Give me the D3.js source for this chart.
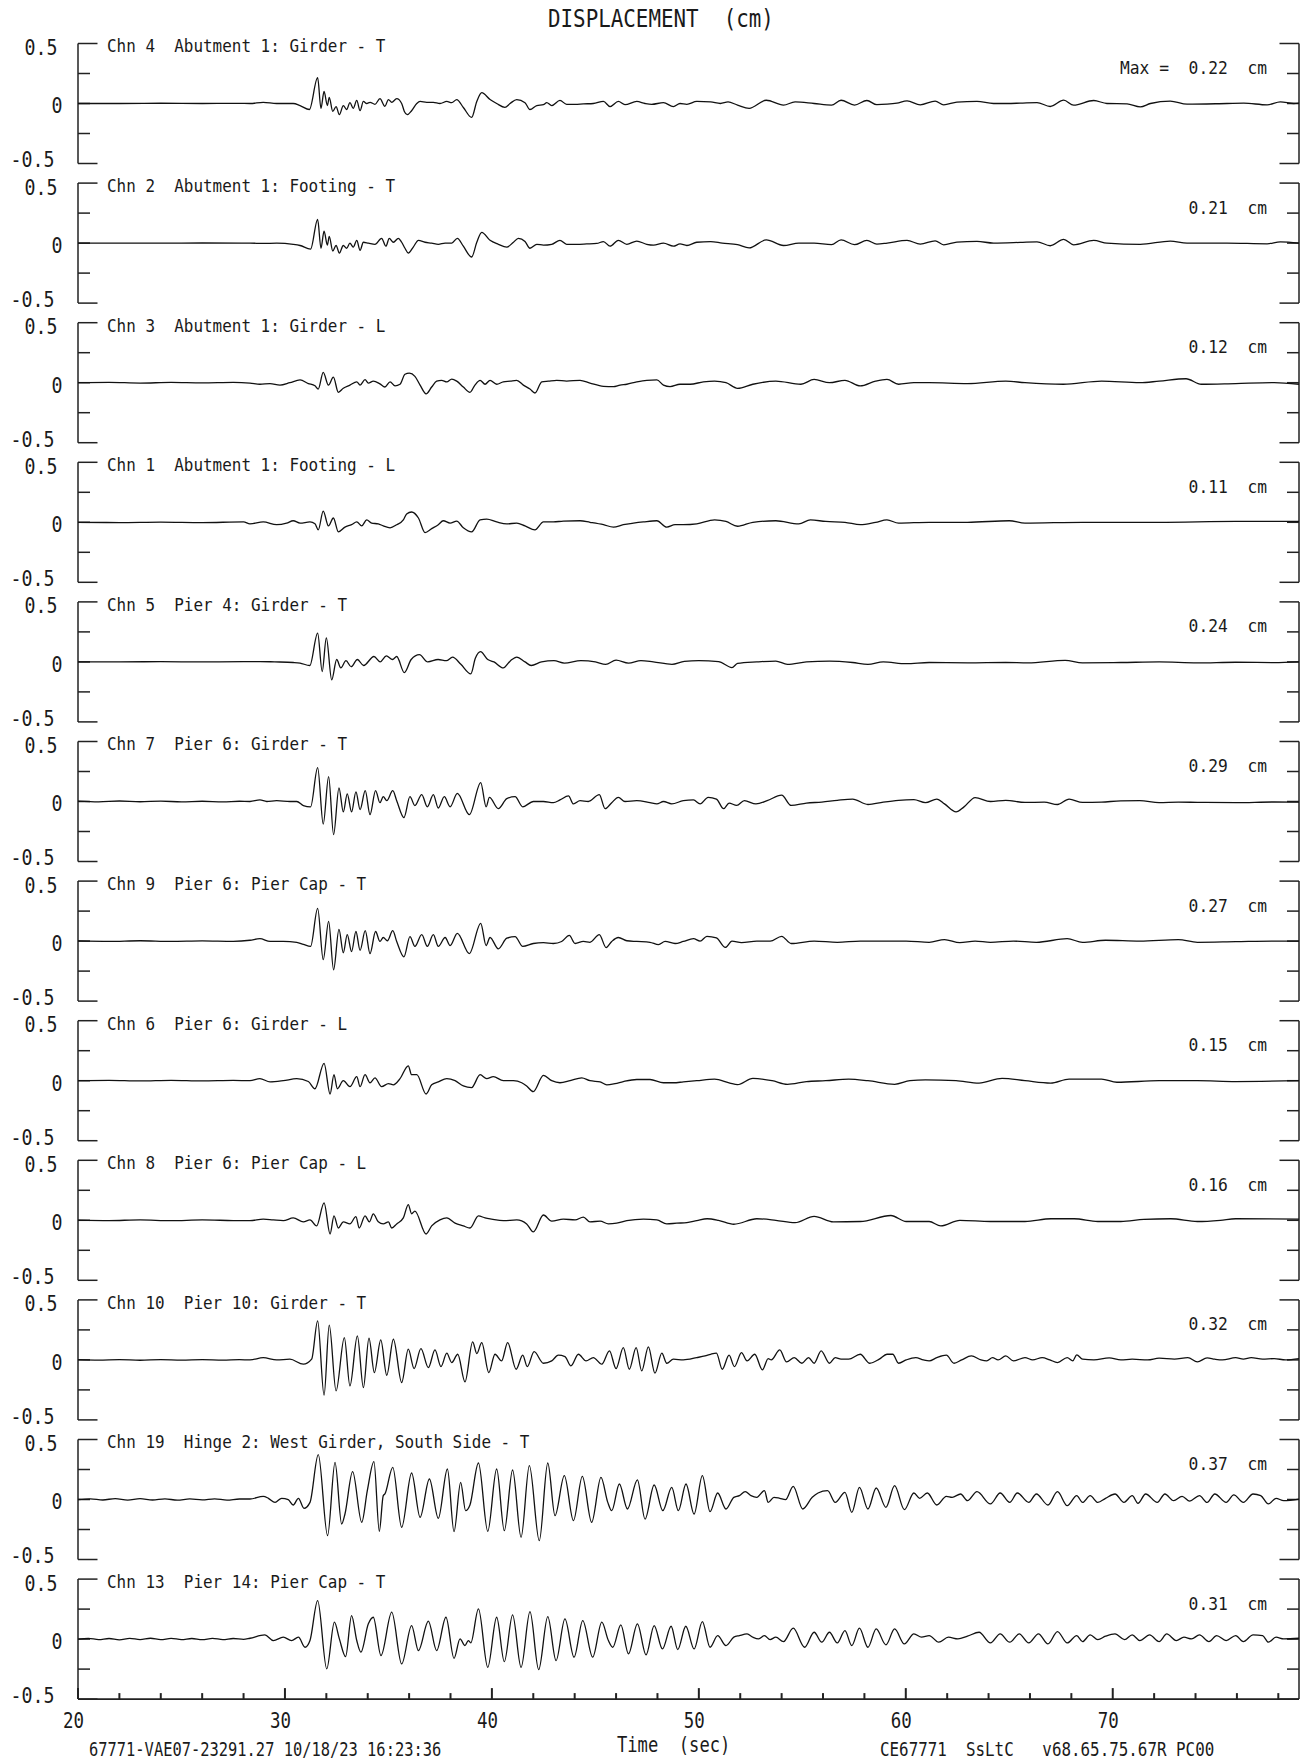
<!DOCTYPE html>
<html>
<head>
<meta charset="utf-8">
<script src="https://cdn.jsdelivr.net/npm/d3@7"></script>
<style>
  body { margin: 0; background: #fff; }
  svg text { font-family: "DejaVu Sans Mono", "Liberation Mono", monospace; fill: #1a1a1a; white-space: pre; }
</style>
</head>
<body>
<div id="chart"></div>
<script>
// channel titles, top to bottom
const chnLabels = [
  "Chn 4  Abutment 1: Girder - T",
  "Chn 2  Abutment 1: Footing - T",
  "Chn 3  Abutment 1: Girder - L",
  "Chn 1  Abutment 1: Footing - L",
  "Chn 5  Pier 4: Girder - T",
  "Chn 7  Pier 6: Girder - T",
  "Chn 9  Pier 6: Pier Cap - T",
  "Chn 6  Pier 6: Girder - L",
  "Chn 8  Pier 6: Pier Cap - L",
  "Chn 10  Pier 10: Girder - T",
  "Chn 19  Hinge 2: West Girder, South Side - T",
  "Chn 13  Pier 14: Pier Cap - T"
];
const maxLabels = ["Max =  0.22  cm", "0.21  cm", "0.12  cm", "0.11  cm", "0.24  cm", "0.29  cm",
  "0.27  cm", "0.15  cm", "0.16  cm", "0.32  cm", "0.37  cm", "0.31  cm"];
const yTicks = [0.5, 0.25, 0, -0.25, -0.5];
const yTickLabels = ["0.5", "0", "-0.5"];
const xMajor = [20, 30, 40, 50, 60, 70];
const xMinor = [22, 24, 26, 28, 32, 34, 36, 38, 42, 44, 46, 48, 52, 54, 56, 58, 62, 64, 66, 68, 72, 74, 76, 78];

// [time (sec), displacement (cm)]
const chn4 = [[20,0],[22,0],[24,0.002],[26,0],[27.5,0.001],
[28.31,0],[28.95,0.01],[29.6,0],[30.4,0],[30.73,-0.017],[31.18,-0.05],[31.58,0.215],[31.74,-0.04],[31.89,0.1],[32.05,-0.017],[32.14,0.05],[32.31,-0.066],[32.47,-0.026],[32.63,-0.093],[32.82,-0.017],[32.98,-0.05],[33.14,0.007],[33.3,-0.04],[33.47,0.026],[33.63,-0.06],[33.79,0.017],[33.95,0],[34.11,0.01],[34.35,-0.007],[34.59,0.04],[34.83,-0.023],[35.0,0.033],[35.16,0.01],[35.4,0.04],[35.64,0],[35.77,-0.066],[35.91,-0.093],[36.12,-0.06],[36.37,0],[36.53,0.017],[36.85,0.01],[37.17,0.01],[37.49,0],[37.82,0.017],[38.06,0.007],[38.3,0.033],[38.62,-0.033],[39.02,-0.116],[39.27,0.017],[39.51,0.09],[39.91,0.033],[40.23,0],[40.63,-0.033],[40.88,0],[41.2,0.033],[41.6,0.007],[41.84,-0.05],[42.17,-0.017],[42.49,-0.01],[42.65,0.007],[42.89,-0.017],[43.29,0.026],[43.61,-0.007],[44.02,-0.007],[44.42,-0.003],[44.9,0],[45.39,0.017],[45.71,-0.026],[46.11,0.017],[46.43,-0.01],[47.0,0.017],[47.4,0],[47.72,-0.007],[48.29,0.007],[48.77,-0.026],[49.09,0],[49.42,-0.007],[49.9,0.017],
[50.57,0.013],[51.04,0],[51.41,0.013],[51.87,-0.013],[52.43,-0.04],[53.26,0.027],[54.09,-0.013],[54.65,0.013],[55.57,0],[56.41,-0.013],[56.87,0.027],[57.52,-0.013],
[58.12,0.025],[58.6,-0.01],[59.1,-0.006],[59.57,0.003],[60.06,0.022],[60.7,-0.011],[61.42,0.02],[61.83,-0.011],[62.47,0.011],[63.44,0.017],[64.24,0],[64.89,0],[65.53,0.003],[66.34,0.008],[66.98,-0.025],[67.63,0.028],[68.11,-0.014],[69.08,0.025],[69.72,0],[70.69,-0.003],[71.33,-0.028],[71.82,0],[72.78,0.02],[73.59,-0.006],[75.52,0],[76.33,0.003],[77.46,-0.011],[78.1,0.014],[78.75,0],[79,0.003]];

const chn2 = [[20,0],[22,0],[24,0],[26,0.001],
[28.31,0],[28.95,-0.003],[29.6,0],[30.4,-0.01],[30.73,-0.02],[31.24,-0.05],[31.58,0.198],[31.74,-0.043],[31.89,0.1],[32.05,-0.017],[32.14,0.056],[32.31,-0.066],[32.47,-0.02],[32.63,-0.083],[32.82,-0.02],[32.98,-0.043],[33.14,0],[33.3,-0.033],[33.47,0.023],[33.63,-0.06],[33.79,0.007],[34.03,0],[34.35,-0.01],[34.67,0.04],[34.88,-0.026],[35.04,0.04],[35.24,0.007],[35.48,0.04],[35.64,0.007],[35.8,-0.043],[35.96,-0.083],[36.2,-0.033],[36.45,0.023],[36.77,0.007],[37.09,0],[37.41,-0.01],[37.74,0],[38.06,0],[38.33,0.04],[38.62,-0.026],[39.02,-0.116],[39.27,0.007],[39.51,0.09],[39.91,0.023],[40.31,-0.01],[40.72,-0.033],[41.04,0.007],[41.28,0.04],[41.6,0.013],[41.84,-0.043],[42.17,-0.01],[42.49,-0.017],[42.89,-0.01],[43.29,0.023],[43.61,-0.01],[44.1,-0.01],[44.58,-0.007],[45.07,-0.003],[45.39,0.013],[45.71,-0.026],[46.11,0.023],[46.52,-0.01],[47.0,0.017],[47.48,-0.01],[47.81,-0.017],[48.29,0],[48.77,-0.026],[49.09,-0.007],[49.42,-0.02],[49.9,0.007],
[50.57,0.013],[51.13,0],[51.87,-0.013],[52.43,-0.04],[53.26,0.027],[54.09,-0.02],[54.83,0],[55.57,0],[56.41,-0.013],[56.87,0.027],[57.52,-0.013],
[58.12,0.022],[58.6,-0.008],[59.1,0],[60.06,0.022],[60.7,-0.008],[61.42,0.019],[61.83,-0.014],[62.47,0.008],[63.44,0.014],[64.24,0],[65.53,0.006],[66.34,0.011],[66.98,-0.022],[67.63,0.031],[68.11,-0.014],[69.08,0.022],[69.72,0],[71.33,-0.01],[72.78,0.017],[73.59,0],[75.52,0],[77.46,-0.006],[78.1,0.011],[79,0]];

const chn3 = [[20,0],[21.5,0.003],[23,-0.003],[24.5,0.002],[26,-0.002],[27.5,0.002],
[28.31,-0.003],[28.79,-0.013],[29.28,-0.007],[29.76,-0.02],[30.24,0],[30.73,0.023],[31.13,-0.007],[31.45,-0.026],[31.61,-0.053],[31.85,0.086],[32.1,-0.02],[32.34,0.046],[32.58,-0.08],[32.82,-0.046],[33.14,-0.02],[33.47,0.007],[33.63,-0.02],[33.87,0.026],[34.03,-0.003],[34.27,0.013],[34.59,-0.01],[34.83,-0.036],[35.08,0.007],[35.32,-0.026],[35.56,-0.013],[35.8,0.07],[36.01,0.08],[36.28,0.053],[36.53,-0.02],[36.82,-0.093],[37.09,-0.036],[37.33,0.013],[37.57,0.02],[37.82,0.007],[38.06,0.03],[38.3,0.013],[38.62,-0.036],[38.94,-0.08],[39.18,-0.02],[39.43,0.02],[39.67,-0.013],[39.91,0.02],[40.23,-0.013],[40.55,0.007],[40.88,0.013],[41.2,0.02],[41.52,-0.02],[41.84,-0.053],[42.08,-0.086],[42.41,0.007],[42.73,0.013],[43.13,0.02],[43.61,0.013],[44.26,0.02],[44.74,-0.003],[45.39,-0.03],[45.87,-0.033],[46.19,-0.02],[46.52,-0.013],[47.0,0.007],[47.48,0.02],[47.97,0.023],[48.29,-0.02],[48.61,-0.033],[49.09,-0.013],[49.58,-0.013],[50.22,0.007],
[50.76,0.013],[51.31,0],[51.87,-0.047],[52.61,-0.013],[53.72,0.013],[54.93,-0.013],[55.57,0.027],[56.31,0],[57.06,0.02],[57.8,-0.027],[58.54,0.013],[59.09,0.027],[59.65,-0.013],[60.39,0],[61.13,0],[62.98,-0.007],[64.83,0.013],[65.76,0],[67.61,-0.013],[69.46,0.013],[71.31,0],[72.24,0.013],[73.54,0.033],[74.28,-0.013],[75.94,-0.007],[77.8,0],[79,-0.013]];

const chn1 = [[20,0],[22,-0.002],[24,0.002],[26,-0.002],[28,0.003],
[28.31,-0.013],[28.95,0.003],[29.6,-0.02],[30.08,-0.007],[30.4,0.013],[30.73,-0.007],[31.21,0.003],[31.45,-0.013],[31.61,-0.063],[31.85,0.093],[32.1,-0.03],[32.34,0.036],[32.58,-0.08],[32.9,-0.04],[33.22,-0.02],[33.47,0.003],[33.71,-0.03],[33.95,0.02],[34.19,-0.007],[34.51,-0.013],[34.75,-0.03],[35.08,-0.046],[35.4,-0.02],[35.72,0.02],[35.88,0.07],[36.12,0.086],[36.45,0.036],[36.77,-0.086],[37.09,-0.053],[37.41,-0.02],[37.65,0.013],[37.98,-0.007],[38.3,0.01],[38.62,-0.046],[39.02,-0.08],[39.43,0.02],[39.75,0.026],[40.23,0.003],[40.72,-0.013],[41.2,-0.007],[41.6,-0.03],[42.08,-0.063],[42.49,0.003],[42.97,0.003],[43.45,0.01],[44.26,0.013],[44.74,0],[45.39,-0.02],[45.87,-0.04],[46.35,-0.02],[46.84,-0.007],[47.32,0.003],[47.97,0.013],[48.45,-0.04],[48.85,-0.02],[49.25,-0.02],[49.9,-0.013],
[50.76,0.02],[51.31,0.007],[51.87,-0.033],[52.61,0],[53.72,0.013],[54.83,-0.013],[55.39,0.02],[56.13,0.007],[57.06,0],[57.8,-0.02],[58.54,0],[59.09,0.02],[59.65,-0.007],[61.13,0],[62.98,0],[65.0,0.013],[65.76,-0.007],[68.54,0],[72.24,0],[75.94,0.007],[79,0.007]];

const chn5 = [[20,0],[22,0],[24,0.002],[26,0],[28,0.002],
[28.8,0.003],[29.5,0],[30.4,-0.005],[30.73,-0.01],[31.2,-0.03],[31.58,0.24],[31.8,-0.08],[32.0,0.2],[32.26,-0.15],[32.5,0.02],[32.7,-0.05],[32.95,0.01],[33.2,-0.04],[33.5,0.02],[33.8,-0.03],[34.3,0.045],[34.6,0],[34.9,0.05],[35.2,0.02],[35.4,0.045],[35.77,-0.09],[36.1,0.02],[36.5,0.06],[36.9,0],[37.4,0.02],[37.8,0.01],[38.1,0.04],[38.5,-0.02],[38.98,-0.1],[39.2,0.03],[39.45,0.085],[39.8,0.02],[40.1,0],[40.55,-0.05],[40.9,0.01],[41.2,0.04],[41.6,0],[41.9,-0.03],[42.4,0],[43.0,0.01],[43.5,-0.01],[44.3,0.01],[45.0,0],[45.5,-0.02],[46.0,0.015],[46.6,-0.01],[47.2,0.01],[47.8,0],[48.7,-0.02],[49.3,0.005],[50.0,0.01],
[50.95,0.003],[51.6,-0.047],[51.87,-0.013],[52.8,0],[53.72,0.007],[54.28,-0.02],[55.2,0],[56.31,0.007],[57.43,-0.005],[58.17,-0.02],[58.91,0],[60.02,-0.015],[61.13,-0.005],[63.0,-0.008],[64.83,-0.005],[65.9,-0.008],[67.7,0.013],[68.54,-0.008],[70.39,-0.005],[72.24,0],[74.09,-0.008],[75.94,-0.003],[77.8,-0.006],[79,0]];

const chn7 = [[20,0.003],[21,-0.003],[22,0.004],[23,-0.002],[24,0.003],[25,-0.003],[26,0.002],[27,-0.003],[27.8,0.002],
[28.31,0],[28.79,0.013],[29.12,0],[29.6,0.007],[30.24,0],[30.57,0],[30.89,-0.034],[31.24,-0.044],[31.58,0.282],[31.85,-0.188],[32.11,0.208],[32.35,-0.276],[32.61,0.114],[32.82,-0.087],[33.01,0.064],[33.22,-0.087],[33.43,0.08],[33.63,-0.067],[33.88,0.09],[34.11,-0.11],[34.38,0.09],[34.59,-0.01],[34.75,0.04],[34.92,0.007],[35.21,0.09],[35.4,0.007],[35.75,-0.134],[36.04,0.04],[36.28,-0.034],[36.61,0.057],[36.88,-0.044],[37.17,0.057],[37.41,-0.054],[37.7,0.04],[37.98,-0.044],[38.33,0.067],[38.91,-0.11],[39.46,0.158],[39.72,-0.044],[39.88,0.034],[40.31,-0.06],[40.72,0.024],[41.12,0.04],[41.49,-0.044],[42.0,0],[42.49,0],[42.97,-0.01],[43.29,0.013],[43.7,0.047],[43.94,-0.02],[44.26,0.007],[44.66,0],[45.19,0.057],[45.47,-0.06],[45.79,-0.01],[46.11,0.034],[46.43,0],[47.0,0.007],[47.64,-0.01],[47.97,-0.02],[48.29,0],[48.69,-0.02],[49.25,0.007],[49.74,0.013],
[50.06,-0.02],[50.45,0.035],[50.85,0.02],[51.2,-0.06],[51.46,-0.013],[51.83,-0.033],[52.2,0.007],[52.76,-0.02],[53.3,0.007],[54.0,0.053],[54.46,-0.033],[55.2,-0.013],[55.94,-0.005],[56.69,0.01],[57.43,0.02],[58.17,-0.025],[58.91,-0.005],[59.65,0.01],[60.39,0.015],[60.95,-0.01],[61.5,0.02],[61.87,-0.02],[62.43,-0.087],[62.8,-0.047],[63.35,0.033],[64.09,0],[64.83,0.01],[65.76,-0.008],[66.69,-0.005],[67.33,-0.025],[67.89,0.02],[68.54,-0.008],[69.46,-0.005],[70.39,0.005],[71.31,0.007],[72.24,-0.01],[73.17,-0.005],[74.09,-0.007],[75.94,-0.01],[77.8,-0.004],[79,-0.005]];

const chn9 = [[20,0.002],[21.5,-0.002],[23,0.003],[24.5,-0.002],[26,0.002],[27.5,-0.002],
[28.31,0.007],[28.79,0.02],[29.28,-0.003],[29.92,-0.003],[30.57,-0.01],[30.89,-0.027],[31.24,-0.044],[31.58,0.272],[31.85,-0.155],[32.11,0.165],[32.35,-0.239],[32.61,0.097],[32.82,-0.097],[33.01,0.054],[33.22,-0.087],[33.43,0.08],[33.63,-0.077],[33.88,0.087],[34.11,-0.104],[34.38,0.08],[34.59,-0.003],[34.75,0.03],[34.95,0.003],[35.21,0.087],[35.4,-0.003],[35.75,-0.131],[36.04,0.037],[36.28,-0.044],[36.61,0.054],[36.88,-0.044],[37.17,0.054],[37.41,-0.044],[37.74,0.03],[37.98,-0.037],[38.33,0.064],[38.91,-0.104],[39.46,0.148],[39.72,-0.037],[39.91,0.03],[40.31,-0.064],[40.72,0.024],[41.12,0.037],[41.49,-0.044],[42.0,-0.02],[42.49,-0.013],[42.97,-0.02],[43.37,-0.003],[43.74,0.047],[44.02,-0.02],[44.42,-0.003],[44.74,-0.01],[45.19,0.054],[45.52,-0.054],[45.79,-0.003],[46.11,0.03],[46.52,0.003],[47.0,-0.003],[47.64,-0.01],[48.05,-0.03],[48.37,-0.003],[48.85,-0.02],[49.25,-0.003],[49.74,0.02],
[50.06,0],[50.39,0.04],[50.85,0.027],[51.28,-0.053],[51.6,0],[52.06,-0.013],[52.8,0],[53.45,0],[54.0,0.04],[54.46,-0.02],[55.57,0],[56.69,-0.01],[57.8,0],[58.91,0],[60.02,0],[61.13,-0.01],[61.87,0.013],[62.61,-0.013],[63.35,0],[64.09,-0.01],[65.2,0],[66.31,-0.01],[67.8,0.02],[68.54,-0.01],[69.65,0.007],[71.31,0],[73.17,0.013],[74.09,-0.01],[75.94,-0.005],[77.8,0],[79,0]];

const chn6 = [[20,0],[21.5,0.003],[23,-0.002],[24.5,0.003],[26,-0.002],[27.5,0.002],
[28.31,0],[28.79,0.017],[29.28,-0.01],[29.92,0],[30.57,0.017],[31.13,-0.007],[31.45,-0.067],[31.89,0.145],[32.18,-0.111],[32.37,0.05],[32.53,-0.067],[32.82,0],[33.14,-0.05],[33.47,0.034],[33.63,-0.05],[33.87,0.05],[34.11,-0.017],[34.35,0.024],[34.67,-0.05],[35.0,-0.024],[35.24,-0.034],[35.56,0.017],[35.96,0.124],[36.12,0.05],[36.37,0.05],[36.82,-0.111],[37.09,-0.034],[37.41,-0.01],[37.82,0.017],[38.22,0],[38.62,-0.044],[39.02,-0.057],[39.43,0.05],[39.75,0.017],[40.07,0.034],[40.55,0],[41.04,0],[41.44,-0.017],[41.68,-0.044],[42.0,-0.091],[42.49,0.044],[42.89,0],[43.29,-0.017],[43.78,0],[44.34,0.024],[44.74,0],[45.23,-0.01],[45.55,-0.034],[45.95,-0.024],[46.35,-0.007],[47.0,0.01],[47.64,0.01],[48.29,-0.017],[48.77,-0.017],[49.25,-0.01],[49.9,0],
[50.76,0.013],[51.5,-0.02],[51.87,-0.033],[52.61,0.02],[53.54,0],[54.28,-0.03],[55.2,-0.007],[56.13,0],[57.24,0.013],[58.17,0],[59.46,-0.03],[60.2,0],[60.95,0.007],[62.43,0],[63.54,-0.02],[64.65,0.02],[65.76,0],[67.0,-0.02],[67.89,0.013],[69.46,0.013],[70.2,-0.013],[72.24,0],[74.09,0],[75.94,-0.007],[79,0]];

const chn8 = [[20,0.002],[21.5,-0.002],[23,0.003],[24.5,-0.003],[26,0.003],[27.5,-0.002],
[28.31,-0.003],[28.95,0.01],[29.44,0.003],[29.92,-0.003],[30.4,0.02],[30.89,-0.013],[31.21,0.003],[31.53,-0.047],[31.89,0.145],[32.18,-0.114],[32.37,0.037],[32.58,-0.064],[32.82,-0.013],[33.14,-0.03],[33.43,0.03],[33.59,-0.064],[33.87,0.037],[34.08,-0.013],[34.27,0.054],[34.51,-0.013],[34.75,-0.03],[35.0,-0.013],[35.16,-0.064],[35.4,-0.03],[35.72,0.02],[35.96,0.131],[36.12,0.054],[36.28,0.077],[36.82,-0.114],[37.09,-0.047],[37.49,0.003],[37.82,0.02],[38.22,-0.024],[38.62,-0.047],[38.94,-0.064],[39.35,0.037],[39.67,0.02],[39.99,0.01],[40.55,-0.003],[41.2,0.003],[41.68,-0.03],[42.0,-0.097],[42.49,0.044],[42.89,-0.007],[43.45,0.01],[44.02,0.003],[44.42,0.027],[44.74,-0.013],[45.23,-0.007],[45.63,-0.03],[46.03,-0.024],[46.52,-0.003],[47.32,0.01],[47.97,0.003],[48.45,-0.03],[48.93,-0.024],[49.42,-0.02],[49.9,-0.003],
[50.4,0.013],[50.95,0],[51.69,-0.033],[52.8,0.013],[53.72,0],[54.65,-0.02],[55.57,0.033],[56.5,-0.013],[57.8,-0.01],[59.28,0.04],[60.02,-0.01],[61.13,-0.01],[61.69,-0.047],[62.61,0],[64.09,-0.01],[65.76,-0.01],[67.02,0.013],[68.13,0.013],[69.28,-0.01],[70.39,-0.01],[71.5,0.007],[72.8,0.013],[74.09,-0.01],[75.2,0],[75.94,0.013],[79,0.01]];

const chn10 = [[20,0.002],[21,-0.002],[22,0.003],[23,-0.003],[24,0.002],[25,-0.002],[26,0.003],[27,-0.002],[27.8,0.002],
[28.31,0],[28.95,0.019],[29.6,0],[30.24,0.006],[30.89,-0.036],[31.29,0.006],[31.58,0.325],[31.89,-0.294],[32.14,0.289],[32.47,-0.258],[32.87,0.186],[33.14,-0.217],[33.5,0.2],[33.79,-0.231],[34.06,0.181],[34.32,-0.106],[34.63,0.167],[34.92,-0.128],[35.24,0.172],[35.64,-0.189],[35.96,0.089],[36.24,-0.072],[36.57,0.094],[36.93,-0.064],[37.25,0.083],[37.54,-0.056],[37.82,0.056],[38.06,-0.022],[38.35,0.047],[38.7,-0.183],[39.07,0.15],[39.27,0.053],[39.51,0.144],[39.85,-0.106],[40.15,0.047],[40.47,-0.008],[40.76,0.144],[41.17,-0.078],[41.49,0.039],[41.71,-0.056],[42.04,0.069],[42.49,-0.028],[42.89,-0.008],[43.21,0.039],[43.53,0.028],[43.82,-0.05],[44.18,0.047],[44.55,-0.008],[44.9,0.019],[45.31,-0.036],[45.68,0.075],[46.0,-0.072],[46.35,0.103],[46.64,-0.078],[46.97,0.103],[47.24,-0.092],[47.56,0.108],[47.88,-0.111],[48.21,0.056],[48.45,-0.028],[48.77,0.006],[49.25,0],[49.9,0.019],
[50.3,0.033],[50.57,0.047],[50.85,0.056],[51.13,-0.078],[51.46,0.039],[51.72,-0.056],[52.06,0.061],[52.33,-0.008],[52.7,0.047],[53.07,-0.083],[53.35,0.011],[53.5,0],[53.91,0.083],[54.24,-0.017],[54.61,0.019],[54.98,-0.028],[55.3,0.019],[55.57,-0.028],[55.91,0.075],[56.31,-0.028],[56.59,0.019],[56.87,0.006],[57.24,0.006],[57.8,0.047],[58.26,-0.028],[58.72,0.006],[59.09,0.047],[59.37,0.047],[59.65,-0.028],[60.02,0],[60.48,0.019],[60.85,0],[61.13,-0.008],[61.5,0.019],[61.96,0.039],[62.33,-0.028],[62.7,0],[63.17,0.033],[63.63,0],[63.91,-0.008],[64.19,0.019],[64.46,0],[64.83,0.033],[65.2,-0.008],[65.76,0.019],[66.13,0],[66.59,0.019],[66.96,0],[67.33,-0.022],[67.8,0.019],[68.07,-0.008],[68.26,0.042],[68.54,0.006],[69.09,0],[69.83,0.017],[70.39,0],[70.94,0.006],[71.69,0],[72.24,0.014],[72.98,0.006],[73.63,0.019],[74.09,-0.017],[74.56,0.017],[74.93,0.006],[75.3,0],[75.94,0.019],[76.31,0.006],[76.69,0.019],[77.24,0.006],[77.8,0.011],[78.35,0],[79,0.011]];

const chn19 = [[20,0],[20.6,0.006],[21.2,-0.004],[21.8,0.008],[22.4,-0.005],[23,0.007],[23.6,-0.004],[24.2,0.006],[24.8,-0.006],[25.4,0.005],[26,-0.003],[26.6,0.006],[27.2,-0.005],[27.8,0.004],
[28.31,0.004],[28.95,0.026],[29.2,0.01],[29.52,-0.024],[29.84,0.01],[30.16,-0.001],[30.4,-0.046],[30.65,0.01],[30.92,-0.074],[31.21,-0.024],[31.61,0.374],[32.06,-0.301],[32.42,0.31],[32.74,-0.204],[32.9,-0.121],[33.27,0.232],[33.71,-0.19],[33.98,0.074],[34.3,0.315],[34.56,-0.265],[34.75,0.032],[34.83,0.046],[35.21,0.268],[35.64,-0.232],[36.12,0.221],[36.53,-0.149],[36.98,0.171],[37.41,-0.157],[37.85,0.254],[38.17,-0.268],[38.49,0.143],[38.73,-0.093],[38.94,-0.046],[39.35,0.304],[39.8,-0.265],[40.23,0.254],[40.6,-0.26],[41.0,0.246],[41.41,-0.315],[41.81,0.282],[42.29,-0.343],[42.7,0.304],[43.05,-0.135],[43.5,0.199],[43.94,-0.176],[44.37,0.193],[44.82,-0.19],[45.27,0.185],[45.6,-0.024],[45.79,-0.093],[46.16,0.129],[46.55,-0.079],[47.03,0.163],[47.4,-0.163],[47.84,0.121],[48.26,-0.093],[48.69,0.101],[49.01,-0.093],[49.38,0.129],[49.77,-0.121],[50.17,0.199],
[50.54,-0.101],[50.91,0.054],[51.31,-0.079],[51.69,0.018],[51.96,0.032],[52.24,0.065],[52.52,0.032],[52.8,0.018],[53.17,0.074],[53.35,-0.024],[53.63,0.018],[53.91,0.01],[54.19,-0.001],[54.56,0.11],[55.02,-0.079],[55.48,0.018],[55.76,0.054],[56.22,0.074],[56.59,-0.024],[57.06,0.06],[57.39,-0.107],[57.76,0.101],[58.17,-0.079],[58.57,0.096],[59.04,-0.065],[59.46,0.115],[59.93,-0.085],[60.39,0.054],[60.67,0.01],[61.04,0.054],[61.5,-0.046],[61.96,0.026],[62.24,0.018],[62.65,0.046],[62.98,-0.01],[63.44,0.065],[64.09,-0.037],[64.56,0.054],[65.02,-0.024],[65.39,0.054],[65.94,-0.024],[66.31,0.046],[66.87,-0.046],[67.33,0.065],[67.8,-0.051],[68.26,0.032],[68.54,-0.024],[68.91,0.032],[69.28,-0.024],[69.65,0.01],[70.11,0.046],[70.54,-0.024],[70.94,0.032],[71.22,-0.032],[71.59,0.046],[72.15,-0.024],[72.52,0.046],[72.94,-0.01],[73.35,0.026],[73.72,-0.013],[74.19,0.032],[74.56,-0.024],[74.93,0.046],[75.48,-0.024],[75.85,0.038],[76.31,-0.024],[76.78,0.046],[77.15,0.032],[77.52,-0.037],[77.89,0.01],[78.26,-0.01],[79,0.004]];

const chn13 = [[20,0],[20.5,0.006],[21,-0.004],[21.5,0.005],[22,-0.006],[22.5,0.006],[23,-0.004],[23.5,0.007],[24,-0.005],[24.5,0.006],[25,-0.004],[25.5,0.005],[26,-0.005],[26.5,0.006],[27,-0.004],[27.5,0.005],[28,-0.003],
[28.31,0.007],[29.03,0.035],[29.44,-0.012],[29.92,0.016],[30.32,-0.012],[30.65,0.016],[30.97,-0.068],[31.21,-0.012],[31.58,0.321],[32.02,-0.248],[32.39,0.141],[32.63,0.002],[32.93,-0.146],[33.22,0.196],[33.47,-0.012],[33.67,-0.109],[34.03,0.127],[34.27,0.182],[34.64,-0.138],[35.16,0.224],[35.64,-0.207],[36.12,0.113],[36.45,-0.096],[36.93,0.149],[37.33,-0.096],[37.78,0.182],[38.17,-0.16],[38.46,0.002],[38.7,-0.054],[38.86,-0.012],[38.98,-0.032],[39.35,0.252],[39.8,-0.235],[40.23,0.182],[40.6,-0.188],[41.0,0.202],[41.41,-0.235],[41.84,0.229],[42.26,-0.254],[42.7,0.188],[43.1,-0.179],[43.53,0.168],[43.97,-0.151],[44.39,0.154],[44.87,-0.151],[45.31,0.141],[45.63,-0.012],[45.84,-0.068],[46.23,0.118],[46.6,-0.123],[47.03,0.127],[47.45,-0.132],[47.84,0.113],[48.24,-0.082],[48.66,0.107],[48.98,-0.088],[49.37,0.107],[49.77,-0.082],[50.17,0.146],
[50.54,-0.068],[50.91,0.029],[51.31,-0.054],[51.69,0.016],[51.96,0.029],[52.33,0.043],[52.61,0.016],[52.89,0.002],[53.17,0.029],[53.44,-0.004],[53.72,0.016],[54.09,-0.021],[54.56,0.091],[55.11,-0.068],[55.57,0.057],[55.94,-0.026],[56.31,0.057],[56.69,-0.032],[57.06,0.071],[57.39,-0.054],[57.76,0.091],[58.17,-0.068],[58.57,0.085],[59.04,-0.048],[59.46,0.085],[59.93,-0.04],[60.39,0.043],[60.76,0.016],[61.13,0.029],[61.59,-0.026],[62.06,0.016],[62.52,0.002],[62.98,0.024],[63.54,0.057],[64.09,-0.032],[64.56,0.043],[65.02,-0.026],[65.48,0.043],[65.94,-0.032],[66.41,0.043],[66.87,-0.04],[67.33,0.063],[67.8,-0.032],[68.26,0.029],[68.54,-0.021],[68.91,0.035],[69.28,-0.004],[69.65,0.024],[70.11,0.043],[70.57,-0.004],[70.94,0.035],[71.31,-0.012],[71.78,0.035],[72.24,-0.021],[72.61,0.043],[73.07,-0.012],[73.44,0.016],[73.81,0.002],[74.19,0.035],[74.65,-0.021],[75.02,0.029],[75.48,-0.012],[75.94,0.029],[76.31,-0.021],[76.78,0.035],[77.24,0.029],[77.52,-0.026],[77.89,0.016],[78.26,0.002],[79,0.007]];

const series = [chn4, chn2, chn3, chn1, chn5, chn7, chn9, chn6, chn8, chn10, chn19, chn13];

const width = 1309, height = 1763;
const panelTop = 43.5, panelStep = 139.6, panelH = 120;

const svg = d3.select("#chart").append("svg")
  .attr("width", width).attr("height", height);

const x = d3.scaleLinear().domain([20, 79]).range([78, 1299]);

// condensed monospace text, like the plotter lettering
function label(g, str, px, py, size, adv, anchor) {
  return g.append("text")
    .attr("x", px).attr("y", py)
    .attr("font-size", size)
    .attr("text-anchor", anchor || "start")
    .attr("textLength", str.length * adv)
    .attr("lengthAdjust", "spacingAndGlyphs")
    .attr("xml:space", "preserve")
    .text(str);
}

label(svg, "DISPLACEMENT  (cm)", 548, 27, 24.5, 12.55);

const line = d3.line().curve(d3.curveMonotoneX);

series.forEach((data, i) => {
  const top = panelTop + i * panelStep;
  const y = d3.scaleLinear().domain([-0.5, 0.5]).range([top + panelH, top]);
  const g = svg.append("g");

  // left and right brackets
  const axisColor = "#222";
  g.append("line").attr("x1", x(20)).attr("x2", x(20)).attr("y1", y(0.5)).attr("y2", y(-0.5))
    .attr("stroke", axisColor).attr("stroke-width", 1.5);
  g.append("line").attr("x1", x(79)).attr("x2", x(79)).attr("y1", y(0.5)).attr("y2", y(-0.5))
    .attr("stroke", axisColor).attr("stroke-width", 1.5);
  yTicks.forEach(v => {
    const len = Math.abs(v) === 0.5 ? 19.5 : 12;
    g.append("line").attr("x1", x(20)).attr("x2", x(20) + len).attr("y1", y(v)).attr("y2", y(v))
      .attr("stroke", axisColor).attr("stroke-width", 1.5);
    g.append("line").attr("x1", x(79) - len).attr("x2", x(79)).attr("y1", y(v)).attr("y2", y(v))
      .attr("stroke", axisColor).attr("stroke-width", 1.5);
  });

  // y tick labels
  label(g, yTickLabels[0], 57.5, y(0.5) + 11.5, 21.5, 11, "end");
  label(g, yTickLabels[1], 62.5, y(0) + 9.8, 21.5, 11, "end");
  label(g, yTickLabels[2], 54.5, y(-0.5) + 3.8, 21.5, 11, "end");

  label(g, chnLabels[i], 107, top + 8.8, 17.8, 9.6);
  label(g, maxLabels[i], 1267, top + 30.5, 18, 9.8, "end");

  g.append("path")
    .attr("d", line(data.map(d => [x(d[0]), y(d[1])])))
    .attr("fill", "none")
    .attr("stroke", "#111")
    .attr("stroke-width", 1.3)
    .attr("stroke-linejoin", "round");
});

// time axis under the last panel
const yBase = panelTop + 11 * panelStep + panelH;
const ax = svg.append("g");
ax.append("line").attr("x1", x(20)).attr("x2", x(79)).attr("y1", yBase).attr("y2", yBase)
  .attr("stroke", "#222").attr("stroke-width", 1.8);
xMajor.forEach(t => {
  ax.append("line").attr("x1", x(t)).attr("x2", x(t)).attr("y1", yBase).attr("y2", yBase - 11)
    .attr("stroke", "#222").attr("stroke-width", 2);
  label(ax, String(t), x(t) - 4.5, yBase + 28.5, 21.5, 10.5, "middle");
});
xMinor.forEach(t => {
  ax.append("line").attr("x1", x(t)).attr("x2", x(t)).attr("y1", yBase).attr("y2", yBase - 6)
    .attr("stroke", "#222").attr("stroke-width", 2);
});

label(svg, "Time  (sec)", 617, 1752, 21.5, 10.3);
label(svg, "67771-VAE07-23291.27 10/18/23 16:23:36", 89, 1756, 19, 9.27);
label(svg, "CE67771  SsLtC   v68.65.75.67R PC00", 880, 1756, 19, 9.55);
</script>
</body>
</html>
